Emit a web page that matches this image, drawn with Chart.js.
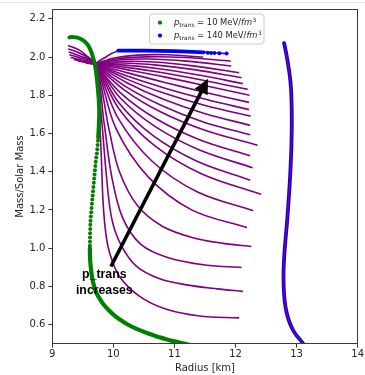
<!DOCTYPE html>
<html><head><meta charset="utf-8">
<script src="https://cdn.jsdelivr.net/npm/chart.js@4.4.1/dist/chart.umd.min.js"></script>
<style>
html,body{margin:0;padding:0;background:#fff;}
#wrap{position:relative;width:365px;height:375px;overflow:hidden;}
#topline{position:absolute;left:0;top:2px;width:365px;height:1px;background:#e4e4e4;}
canvas{display:block;}
</style></head><body>
<div id="wrap"><canvas id="c" width="365" height="375"></canvas><div id="topline"></div></div>
<script>
// ---------- data ----------
const xTicks = [9, 10, 11, 12, 13, 14];
const yTicks = [0.6, 0.8, 1.0, 1.2, 1.4, 1.6, 1.8, 2.0, 2.2];
const xTitle = 'Radius [km]';
const yTitle = 'Mass/Solar Mass';
const legendValues = ['10', '140'];           // p_trans in MeV/fm^3
const noteLines = ['p_trans', 'increases'];

// purple hybrid-star curves, [radius, mass]
const hyb01 = [[9.55,1.970],[9.70,1.965],[9.99,1.994],[10.39,2.010],[10.88,2.012],[11.47,2.000]];
const hyb02 = [[9.55,1.968],[9.70,1.965],[10.05,1.990],[10.54,2.001],[11.16,1.998],[11.92,1.979]];
const hyb03 = [[9.70,1.965],[10.08,1.985],[10.58,1.990],[11.20,1.979],[11.93,1.953]];
const hyb04 = [[9.70,1.965],[10.12,1.977],[10.66,1.974],[11.30,1.954],[12.06,1.918]];
const hyb05 = [[9.70,1.965],[10.15,1.969],[10.71,1.958],[11.35,1.933],[12.10,1.892]];
const hyb06 = [[9.70,1.965],[10.19,1.958],[10.75,1.939],[11.40,1.906],[12.12,1.861]];
const hyb07 = [[9.70,1.965],[10.22,1.946],[10.81,1.918],[11.47,1.879],[12.20,1.831]];
const hyb08 = [[9.70,1.965],[10.24,1.933],[10.85,1.895],[11.51,1.850],[12.23,1.800]];
const hyb09 = [[9.70,1.965],[10.25,1.916],[10.86,1.866],[11.51,1.815],[12.22,1.763]];
const hyb10 = [[9.70,1.965],[10.25,1.898],[10.86,1.836],[11.51,1.779],[12.22,1.725]];
const hyb11 = [[9.70,1.965],[10.24,1.882],[10.85,1.809],[11.52,1.745],[12.25,1.690]];
const hyb12 = [[9.70,1.965],[10.22,1.866],[10.82,1.779],[11.49,1.705],[12.24,1.643]];
const hyb13 = [[9.70,1.965],[10.19,1.848],[10.78,1.748],[11.46,1.662],[12.24,1.593]];
const hyb14 = [[9.70,1.965],[10.17,1.830],[10.77,1.714],[11.50,1.617],[12.36,1.539]];
const hyb15 = [[9.70,1.965],[10.13,1.809],[10.70,1.677],[11.40,1.569],[12.24,1.483]];
const hyb16 = [[9.55,1.970],[9.70,1.965],[10.11,1.787],[10.68,1.637],[11.40,1.515],[12.28,1.421]];
const hyb17 = [[9.50,1.975],[9.70,1.965],[10.09,1.761],[10.64,1.591],[11.36,1.456],[12.24,1.356]];
const hyb18 = [[9.42,1.980],[9.58,1.970],[9.70,1.965],[10.09,1.730],[10.67,1.538],[11.45,1.388],[12.42,1.282]];
const hyb19 = [[9.35,1.988],[9.55,1.975],[9.70,1.965],[10.08,1.679],[10.63,1.456],[11.37,1.295],[12.29,1.196]];
const hyb20 = [[9.30,1.998],[9.48,1.985],[9.70,1.965],[10.04,1.628],[10.57,1.373],[11.29,1.199],[12.19,1.108]];
const hyb21 = [[9.28,2.012],[9.46,1.995],[9.70,1.965],[9.93,1.620],[10.10,1.400],[10.40,1.220],[10.80,1.115],[11.30,1.055],[11.80,1.025],[12.26,1.009]];
const hyb22 = [[9.27,2.027],[9.45,2.006],[9.70,1.965],[9.85,1.650],[9.97,1.380],[10.15,1.160],[10.45,1.020],[10.90,0.950],[11.50,0.912],[12.10,0.899]];
const hyb23 = [[9.26,2.042],[9.45,2.020],[9.70,1.965],[9.80,1.700],[9.88,1.400],[9.97,1.160],[10.12,1.020],[10.38,0.905],[10.76,0.840],[11.20,0.808],[11.70,0.787],[12.12,0.774]];
const hyb24 = [[9.26,2.060],[9.45,2.035],[9.62,1.990],[9.70,1.965],[9.76,1.750],[9.80,1.500],[9.83,1.250],[9.875,1.080],[9.94,0.975],[10.10,0.852],[10.43,0.748],[10.87,0.680],[11.41,0.645],[12.06,0.635]];
const hybTop = [[9.70,1.965],[9.85,1.995],[9.98,2.020],[10.10,2.033],[10.50,2.034],[11.00,2.031],[11.50,2.025],[11.86,2.018]];

// hadronic branch (blue dots with purple line)
const hadron = [[12.796,2.073],[12.83,2.020],[12.862,1.960],[12.89,1.900],[12.908,1.840],[12.918,1.760],[12.922,1.680],[12.92,1.600],[12.912,1.500],[12.895,1.380],[12.872,1.260],[12.845,1.140],[12.815,1.030],[12.793,0.930],[12.786,0.850],[12.795,0.760],[12.82,0.690],[12.86,0.635],[12.92,0.585],[12.99,0.547],[13.06,0.520],[13.12,0.495]];

// p_trans = 140 MeV/fm^3 (blue)
const blueTop = [[10.08,2.034],[10.50,2.034],[11.00,2.031],[11.48,2.025]];
const blueTopDots = [[11.545,2.022],[11.60,2.021],[11.655,2.021],[11.736,2.020],[11.855,2.019]];

// p_trans = 10 MeV/fm^3 (green)
const greenTop = [[9.750,1.580],[9.758,1.620],[9.765,1.670],[9.768,1.720],[9.762,1.770],[9.750,1.820],[9.735,1.870],[9.718,1.920],[9.697,1.960],[9.670,1.995],[9.635,2.030],[9.590,2.060],[9.530,2.082],[9.460,2.096],[9.390,2.103],[9.320,2.105],[9.280,2.103]];
const greenMid = [[9.615,1.012],[9.616,1.034],[9.617,1.056],[9.619,1.078],[9.621,1.100],[9.623,1.122],[9.626,1.144],[9.631,1.166],[9.637,1.188],[9.643,1.210],[9.649,1.232],[9.655,1.254],[9.661,1.276],[9.667,1.298],[9.673,1.320],[9.680,1.342],[9.686,1.364],[9.692,1.386],[9.698,1.408],[9.705,1.430],[9.712,1.452],[9.720,1.474],[9.730,1.496],[9.737,1.518],[9.742,1.540],[9.747,1.562]];
const greenBottom = [[9.615,1.000],[9.617,0.960],[9.624,0.920],[9.637,0.880],[9.656,0.840],[9.685,0.800],[9.725,0.765],[9.780,0.733],[9.840,0.705],[9.910,0.680],[10.000,0.652],[10.100,0.628],[10.250,0.598],[10.400,0.575],[10.550,0.556],[10.700,0.539],[10.850,0.525],[11.000,0.512],[11.120,0.503],[11.300,0.490]];

// annotation (data units)
const arrowTail = [9.96, 0.904];
const arrowTip = [11.55, 1.887];
const noteAnchor = [9.852, 0.82];

// ---------- chart ----------
const PURPLE = '#800080', GREEN = '#008000', BLUE = '#0000ff';
const xy = a => a.map(p => ({x: p[0], y: p[1]}));
const hybrids = [hyb01,hyb02,hyb03,hyb04,hyb05,hyb06,hyb07,hyb08,hyb09,hyb10,hyb11,hyb12,hyb13,hyb14,hyb15,hyb16,hyb17,hyb18,hyb19,hyb20,hyb21,hyb22,hyb23,hyb24,hybTop];

const datasets = [];
hybrids.forEach(h => datasets.push({data: xy(h), showLine: true, borderColor: PURPLE, borderWidth: 1.6,
  pointRadius: 0, tension: 0.35, clip: 0, order: 4}));
datasets.push({data: xy(blueTop), showLine: true, borderColor: BLUE, borderWidth: 3.8, borderCapStyle: 'round', pointRadius: 0, clip: 0, order: 3});
datasets.push({data: xy(blueTopDots), showLine: false, backgroundColor: BLUE, borderWidth: 0, pointRadius: 2.0, clip: 0, order: 3});
datasets.push({data: xy(hadron), showLine: true, borderColor: BLUE, borderWidth: 3.8, borderCapStyle: 'round', pointRadius: 0, tension: 0.4, clip: 0, order: 2});
datasets.push({data: xy(hadron), showLine: true, borderColor: PURPLE, borderWidth: 1.5, pointRadius: 0, tension: 0.4, clip: 0, order: 1});
datasets.push({data: xy(greenTop), showLine: true, borderColor: GREEN, borderWidth: 4.0, borderCapStyle: 'round', pointRadius: 0, tension: 0.3, clip: 0, order: 0});
datasets.push({data: xy(greenMid), showLine: false, backgroundColor: GREEN, borderWidth: 0, pointRadius: 2.0, clip: 0, order: 0});
datasets.push({data: xy(greenBottom), showLine: true, borderColor: GREEN, borderWidth: 4.2, borderCapStyle: 'round', pointRadius: 0, tension: 0.3, clip: 0, order: 0});

const TXT = '#262626';
const tickFont = {family: 'DejaVu Sans', size: 10};

const framePlugin = {
  id: 'frame',
  afterDatasetsDraw(chart) {
    const {ctx, chartArea: a} = chart;
    ctx.save();
    ctx.strokeStyle = '#3a3a3a';
    ctx.lineWidth = 1;
    ctx.strokeRect(Math.round(a.left) + 0.5, Math.round(a.top) + 0.5, Math.round(a.right - a.left), Math.round(a.bottom - a.top));
    ctx.restore();
  }
};

const notePlugin = {
  id: 'note',
  afterDatasetsDraw(chart) {
    const {ctx, scales: {x, y}} = chart;
    const x0 = x.getPixelForValue(arrowTail[0]), y0 = y.getPixelForValue(arrowTail[1]);
    const x1 = x.getPixelForValue(arrowTip[0]), y1 = y.getPixelForValue(arrowTip[1]);
    const dx = x1 - x0, dy = y1 - y0, L = Math.hypot(dx, dy), ux = dx / L, uy = dy / L;
    const hl = 15, hw = 7.3;
    const bx = x1 - ux * hl, by = y1 - uy * hl;
    ctx.save();
    ctx.strokeStyle = '#000'; ctx.fillStyle = '#000';
    ctx.lineWidth = 3.6; ctx.lineCap = 'butt';
    ctx.beginPath(); ctx.moveTo(x0, y0); ctx.lineTo(bx + ux, by + uy); ctx.stroke();
    ctx.beginPath();
    ctx.moveTo(x1, y1);
    ctx.lineTo(bx - uy * hw, by + ux * hw);
    ctx.lineTo(bx + uy * hw, by - ux * hw);
    ctx.closePath(); ctx.fill();
    const tx = x.getPixelForValue(noteAnchor[0]), ty = y.getPixelForValue(noteAnchor[1]);
    ctx.font = 'bold 12.3px "Liberation Sans", Arial, sans-serif';
    ctx.textAlign = 'center'; ctx.textBaseline = 'middle';
    ctx.fillText(noteLines[0], tx, ty - 8);
    ctx.fillText(noteLines[1], tx, ty + 8);
    ctx.restore();
  }
};

const legendPlugin = {
  id: 'mlegend',
  afterDraw(chart) {
    const ctx = chart.ctx;
    ctx.save();
    const bx = 149, by = 13.5, bw = 114.5, bh = 30;
    ctx.beginPath();
    ctx.roundRect(bx + 0.5, by + 0.5, bw, bh, 3);
    ctx.fillStyle = 'rgba(255,255,255,0.85)'; ctx.fill();
    ctx.strokeStyle = '#cccccc'; ctx.lineWidth = 1; ctx.stroke();
    const colors = [GREEN, BLUE];
    const rows = [25.2, 38.2];
    legendValues.forEach((v, i) => {
      const base = rows[i];
      ctx.fillStyle = colors[i];
      ctx.beginPath(); ctx.arc(160, base - 2.6, 2.1, 0, Math.PI * 2); ctx.fill();
      ctx.fillStyle = TXT; ctx.textAlign = 'left'; ctx.textBaseline = 'alphabetic';
      let cx = 174;
      ctx.font = 'italic 8.4px "DejaVu Sans"';
      ctx.fillText('p', cx, base); cx += ctx.measureText('p').width;
      ctx.font = '5.9px "DejaVu Sans"';
      ctx.fillText('trans', cx, base + 1.8); cx += ctx.measureText('trans').width;
      ctx.font = '8.4px "DejaVu Sans"';
      const mid = ' = ' + v + ' MeV/';
      ctx.fillText(mid, cx, base); cx += ctx.measureText(mid).width;
      ctx.font = 'italic 8.4px "DejaVu Sans"';
      ctx.fillText('fm', cx, base); cx += ctx.measureText('fm').width + 0.4;
      ctx.font = '5.9px "DejaVu Sans"';
      ctx.fillText('3', cx, base - 3.6);
    });
    ctx.restore();
  }
};

new Chart(document.getElementById('c'), {
  type: 'scatter',
  data: {datasets},
  options: {
    responsive: false, animation: false, devicePixelRatio: 1,
    layout: {padding: {left: 0, right: 0, top: 9.3, bottom: 0}},
    plugins: {legend: {display: false}, tooltip: {enabled: false}},
    scales: {
      x: {
        type: 'linear', min: 9, max: 14,
        afterBuildTicks: s => { s.ticks = xTicks.map(v => ({value: v})); },
        afterFit: s => { s.height = 31.3; },
        ticks: {color: TXT, font: tickFont, padding: 1, maxRotation: 0, autoSkip: false, callback: v => String(v)},
        grid: {display: true, drawOnChartArea: false, drawTicks: true, tickLength: 4, color: '#3a3a3a', lineWidth: 1},
        border: {display: false},
        title: {display: true, text: xTitle, color: TXT, font: tickFont, padding: {top: 0, bottom: 1}}
      },
      y: {
        type: 'linear', min: 0.5, max: 2.25,
        afterBuildTicks: s => { s.ticks = yTicks.map(v => ({value: v})); },
        afterFit: s => { s.width = 52.3; },
        ticks: {color: TXT, font: tickFont, padding: 3, autoSkip: false, callback: v => Number(v).toFixed(1)},
        grid: {display: true, drawOnChartArea: false, drawTicks: true, tickLength: 4, color: '#3a3a3a', lineWidth: 1},
        border: {display: false},
        title: {display: true, text: yTitle, color: TXT, font: tickFont, padding: {top: 14.7, bottom: 0}}
      }
    }
  },
  plugins: [framePlugin, notePlugin, legendPlugin]
});
</script></body></html>
